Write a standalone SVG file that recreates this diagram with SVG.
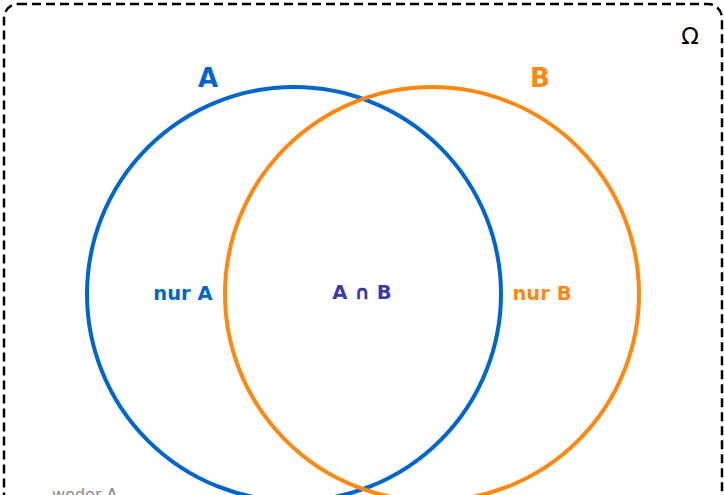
<svg xmlns="http://www.w3.org/2000/svg" width="724" height="495" viewBox="0 0 724 495">
<style>
.lbl{font-family:"DejaVu Sans",sans-serif;font-weight:bold;text-anchor:middle}
.circ{fill:none;stroke-width:4}
</style>
<rect width="724" height="495" fill="#ffffff"/>
<g id="omega">
<rect x="4" y="4" width="718" height="520" rx="14" fill="none" stroke="#000" stroke-width="2.5" stroke-dasharray="9,5"/>
<text x="690" y="44" font-family="DejaVu Sans,sans-serif" font-size="23" text-anchor="middle" fill="#000">Ω</text>
</g>
<g id="setA">
<circle class="circ" cx="294" cy="294" r="207" stroke="#0066cc"/>
<text class="lbl" x="208" y="87" font-size="26" fill="#0066cc">A</text>
<text class="lbl" x="183" y="300" font-size="19.5" fill="#0066cc">nur A</text>
</g>
<g id="setB">
<circle class="circ" cx="432" cy="294" r="207" stroke="#ff8811"/>
<text class="lbl" x="540" y="87" font-size="26" fill="#ff8811">B</text>
<text class="lbl" x="542" y="300" font-size="19.5" fill="#ff8811">nur B</text>
</g>
<g id="intersection">
<text class="lbl" x="362" y="299" font-size="19.5" fill="#3a3aaa">A ∩ B</text>
</g>
<g id="neither">
<text x="52" y="500" font-family="DejaVu Sans,sans-serif" font-size="16" fill="#888888">weder A</text>
</g>
</svg>
